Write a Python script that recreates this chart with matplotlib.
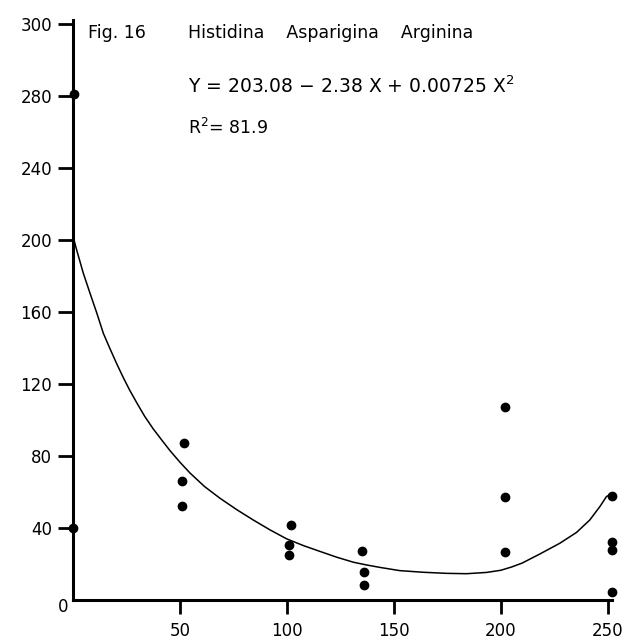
import matplotlib.pyplot as plt

obs_x = [0, 0.5, 52, 51, 51, 102, 101, 101, 135, 136, 136, 202, 202, 202, 252, 252, 252, 252]
obs_y = [40, 281, 87, 66, 52, 41.5, 30.5, 25, 27, 15.5, 8.5, 107, 57, 26.5, 58, 32, 28, 4.5]

# hand drawn fitted curve
curve_x = [0, 1.7, 4.8, 7.9, 11.1, 14.2, 17.3, 20.5, 23.5, 26.5, 29.8, 33.5, 37.5, 41.5,
           45.3, 50, 54.7, 61.5, 68.7, 76.5, 84.3, 92, 99.8, 107.5, 115.4, 123.2, 131,
           137, 143.5, 152.8, 163.7, 174.6, 184, 193.3, 200, 205, 210, 218.2, 227.6,
           235.4, 241.6, 246.3, 249.4, 251]
curve_y = [202, 194.4, 181.5, 170.5, 159.4, 148, 139.5, 131, 123.5, 116.5, 109.5, 102, 95, 88.8,
           83, 76.5, 70.5, 63, 56.5, 50.2, 44.4, 39, 34, 30.3, 27, 23.8, 21,
           19.5, 18.1, 16.3, 15.4, 14.8, 14.6, 15.3, 16.5, 18.3, 20.5, 25.5, 31.5,
           37.5, 44.4, 51.8, 57.4, 58.5]

xticks = [50, 100, 150, 200, 250]
xtick_labels = ['50', '100', '150', '200', '250']
# the scan squeezes the top label: "300" sits one full step above 280
yticks = [40, 80, 120, 160, 200, 240, 280, 320]
ytick_labels = ['40', '80', '120', '160', '200', '240', '280', '300']

fig = plt.figure(figsize=(6.38, 6.43), dpi=100)
ax = fig.add_axes([73/638, 1 - 600/643, 539/638, 580/643])

ax.plot(curve_x, curve_y, color='black', lw=1.1, clip_on=False)
ax.plot(obs_x, obs_y, 'o', color='black', ms=6, mfc='black', mec='black', clip_on=False)

ax.set_xlim(0, 252)
ax.set_ylim(0, 322)
ax.set_xticks(xticks)
ax.set_xticklabels(xtick_labels)
ax.set_yticks(yticks)
ax.set_yticklabels(ytick_labels)

for s in ['top', 'right']:
    ax.spines[s].set_visible(False)
for s in ['left', 'bottom']:
    ax.spines[s].set_linewidth(2.2)
ax.tick_params(axis='y', direction='out', length=11, width=2, pad=4, labelsize=12)
ax.tick_params(axis='x', direction='out', length=10, width=2, pad=6, labelsize=12)

fig.text(63/638, 1 - 607/643, '0', fontsize=12, ha='center', va='center')

fig.text(88/638, 1 - 33/643, 'Fig. 16', fontsize=12.5, va='center')
fig.text(188/638, 1 - 33/643, 'Histidina    Asparigina    Arginina', fontsize=12.5, va='center')
fig.text(188/638, 1 - 86/643, r'Y = 203.08 $-$ 2.38 X + 0.00725 X$^2$', fontsize=13.5, va='center')
fig.text(188/638, 1 - 128/643, r'R$^2$= 81.9', fontsize=12.5, va='center')

plt.savefig('out.png', dpi=100)
